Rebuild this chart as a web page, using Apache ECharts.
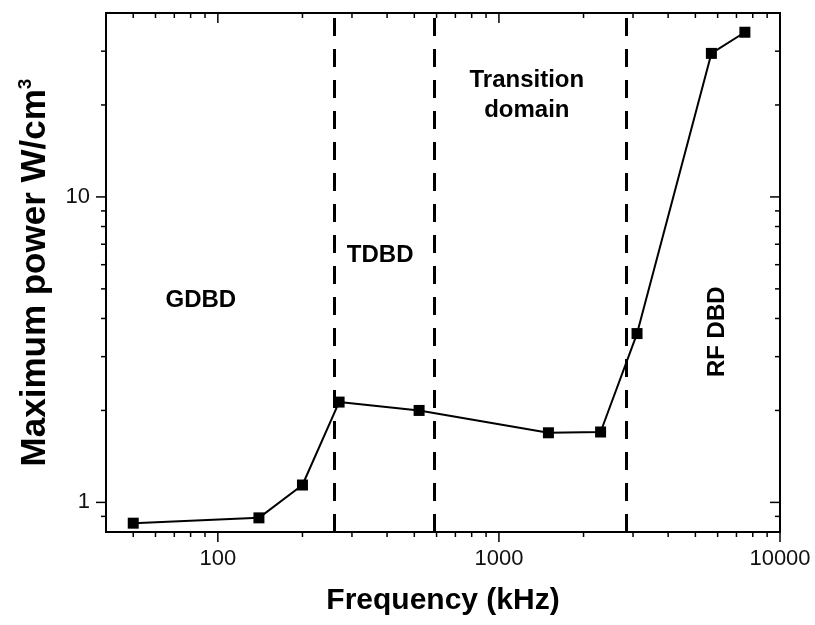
<!DOCTYPE html>
<html>
<head>
<meta charset="utf-8">
<script src="https://cdn.jsdelivr.net/npm/echarts@6/dist/echarts.min.js"></script>
<style>
  html, body { margin: 0; padding: 0; background: #fff; }
  #chart { width: 815px; height: 625px; }
</style>
</head>
<body>
<div id="chart"></div>
<script>
// Measured maximum discharge power versus driving frequency
const frequency = [50, 140, 200, 270, 520, 1500, 2300, 3100, 5700, 7500];       // kHz
const maxPower  = [0.855, 0.89, 1.14, 2.13, 2.0, 1.69, 1.70, 3.57, 29.5, 34.6];  // W/cm^3

// Frequencies separating the discharge regimes (kHz)
const regimeBoundaries = [260, 590, 2830];

// Regime names, anchored in data units (kHz, W/cm^3)
const regimeNames  = ['GDBD', 'TDBD', 'Transition\ndomain', 'RF DBD'];
const regimeFreq   = [87, 378, 1257, 6000];
const regimePower  = [4.6, 6.46, 21.5, 3.62];

// Axis ranges and tick values
const xRange = [40, 10000];
const yRange = [0.8, 40];
const xMajorTicks = [100, 1000, 10000];
const xMinorTicks = [50, 60, 70, 80, 90, 200, 300, 400, 500, 600, 700, 800, 900,
                     2000, 3000, 4000, 5000, 6000, 7000, 8000, 9000];
const yMajorTicks = [1, 10];
const yMinorTicks = [0.9, 2, 3, 4, 5, 6, 7, 8, 9, 20, 30];

const FONT = '"Liberation Sans", Arial, Helvetica, sans-serif';

// Tick marks on all four sides of the frame: [x, y, side, isMajor]
// side: 0 bottom (outward), 1 top (inward), 2 left (outward), 3 right (inward)
const tickData = [];
xMajorTicks.forEach(v => { tickData.push([v, yRange[0], 0, 1]); tickData.push([v, yRange[0], 1, 1]); });
xMinorTicks.forEach(v => { tickData.push([v, yRange[0], 0, 0]); tickData.push([v, yRange[0], 1, 0]); });
yMajorTicks.forEach(v => { tickData.push([xRange[0], v, 2, 1]); tickData.push([xRange[0], v, 3, 1]); });
yMinorTicks.forEach(v => { tickData.push([xRange[0], v, 2, 0]); tickData.push([xRange[0], v, 3, 0]); });

function renderTick(params, api) {
  const p = api.coord([api.value(0), api.value(1)]);
  const side = api.value(2);
  const len = api.value(3) ? 10 : 5;
  const cs = params.coordSys;
  let shape;
  if (side === 0) shape = { x1: p[0], y1: cs.y + cs.height, x2: p[0], y2: cs.y + cs.height + len };
  else if (side === 1) shape = { x1: p[0], y1: cs.y, x2: p[0], y2: cs.y + len };
  else if (side === 2) shape = { x1: cs.x, y1: p[1], x2: cs.x - len, y2: p[1] };
  else shape = { x1: cs.x + cs.width, y1: p[1], x2: cs.x + cs.width - len, y2: p[1] };
  return { type: 'line', shape: shape, style: { stroke: '#000', lineWidth: 1.5 } };
}

function powerOfTenLabel(v) {
  const e = Math.log10(v);
  if (Math.abs(e - Math.round(e)) > 1e-6) return '';
  return String(Math.round(v));
}

const chart = echarts.init(document.getElementById('chart'), null, { renderer: 'canvas' });

chart.setOption({
  animation: false,
  backgroundColor: '#fff',
  textStyle: { fontFamily: FONT },
  grid: {
    left: 106, right: 35, top: 13, bottom: 93,
    containLabel: false,
    outerBoundsMode: 'none',
    show: true,
    borderColor: '#000',
    borderWidth: 2,
    backgroundColor: 'transparent'
  },
  xAxis: {
    type: 'log',
    logBase: 10,
    min: xRange[0],
    max: xRange[1],
    name: 'Frequency (kHz)',
    nameLocation: 'middle',
    nameGap: 54,
    nameTextStyle: { fontFamily: FONT, fontSize: 30, fontWeight: 'bold', color: '#000' },
    axisLine: { show: false },
    axisTick: { show: false },
    minorTick: { show: false },
    splitLine: { show: false },
    axisLabel: {
      fontFamily: FONT, fontSize: 22, color: '#111', margin: 16,
      showMinLabel: false,
      formatter: powerOfTenLabel
    }
  },
  yAxis: {
    type: 'log',
    logBase: 10,
    min: yRange[0],
    max: yRange[1],
    name: 'Maximum power W/cm{sup|3}',
    nameLocation: 'middle',
    nameGap: 50,
    nameTextStyle: {
      fontFamily: FONT, fontSize: 35, fontWeight: 'bold', color: '#000', lineHeight: 38,
      rich: {
        sup: { fontFamily: FONT, fontSize: 19, fontWeight: 'bold', color: '#000',
               verticalAlign: 'top', lineHeight: 19 }
      }
    },
    axisLine: { show: false },
    axisTick: { show: false },
    minorTick: { show: false },
    splitLine: { show: false },
    axisLabel: {
      fontFamily: FONT, fontSize: 22, color: '#111', margin: 16,
      showMinLabel: false, showMaxLabel: false,
      formatter: powerOfTenLabel
    }
  },
  series: [
    {
      type: 'line',
      data: frequency.map((f, i) => [f, maxPower[i]]),
      symbol: 'rect',
      symbolSize: 11,
      itemStyle: { color: '#000' },
      lineStyle: { color: '#000', width: 2 },
      z: 5,
      markLine: {
        silent: true,
        symbol: ['none', 'none'],
        label: { show: false },
        lineStyle: { color: '#000', width: 3, type: [18, 13] },
        data: regimeBoundaries.map(b => ({ xAxis: b }))
      }
    },
    {
      // regime names, drawn as labels of invisible anchor points
      type: 'scatter',
      symbolSize: 1,
      itemStyle: { color: 'rgba(255,255,255,0)', opacity: 1 },
      silent: true,
      data: regimeNames.map((n, i) => ({
        name: n,
        value: [regimeFreq[i], regimePower[i]],
        label: n === 'RF DBD' ? { rotate: 90 } : {}
      })),
      label: {
        show: true,
        position: 'inside',
        formatter: p => p.name,
        fontFamily: FONT,
        fontSize: 24,
        fontWeight: 'bold',
        color: '#000',
        opacity: 1,
        textBorderWidth: 0,
        lineHeight: 30,
        align: 'center'
      }
    },
    {
      type: 'custom',
      renderItem: renderTick,
      data: tickData,
      clip: false,
      silent: true,
      z: 10
    }
  ]
});
</script>
</body>
</html>
